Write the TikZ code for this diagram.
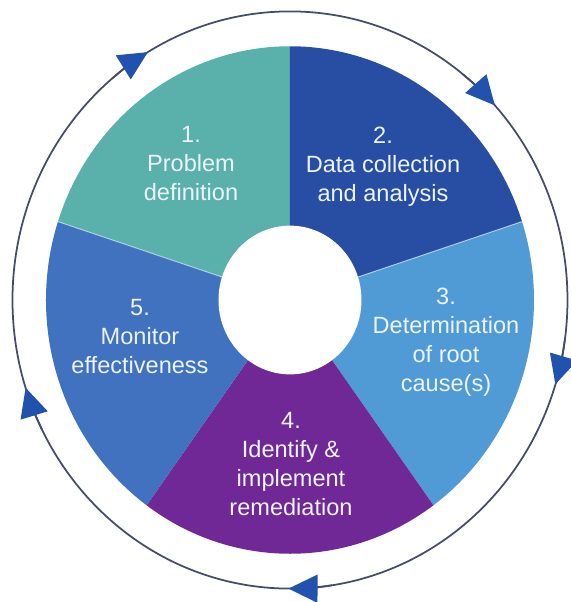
\documentclass[tikz,border=0pt]{standalone}
\usepackage{fontspec}
\setmainfont{Liberation Sans}
\usetikzlibrary{arrows.meta}

\definecolor{segteal}{RGB}{90,177,172}
\definecolor{segnavy}{RGB}{40,78,164}
\definecolor{segsky}{RGB}{80,155,214}
\definecolor{segpurple}{RGB}{112,40,150}
\definecolor{segblue}{RGB}{64,114,192}
\definecolor{ringline}{RGB}{70,76,104}
\definecolor{tipblue}{RGB}{33,82,173}
\definecolor{labeltext}{RGB}{236,243,250}

\tikzset{
  steplabel/.style={text=labeltext,align=center,inner sep=0pt,
    font=\fontsize{6.7}{8.25}\selectfont},
  sepline/.style={white,line width=0.3pt,opacity=0.5},
  ringtip/.tip={Triangle[length=0.29cm,width=0.28cm,color=tipblue]},
  ringarrow/.style={ringline,line width=0.5pt,-{ringtip}}
}

\begin{document}
\begin{tikzpicture}

\useasboundingbox (-2.90,-3.02) rectangle (2.81,3.00);

\begin{scope}[yscale=1.04]
%sectors, clockwise from the top
\fill[segteal]   (0,0) -- (90:2.44)  arc (90:162:2.44)  -- cycle;
\fill[segnavy]   (0,0) -- (18:2.44)  arc (18:90:2.44)   -- cycle;
\fill[segsky]    (0,0) -- (-54:2.44) arc (-54:18:2.44)  -- cycle;
\fill[segpurple] (0,0) -- (-126:2.44) arc (-126:-54:2.44) -- cycle;
\fill[segblue]   (0,0) -- (162:2.44) arc (162:234:2.44) -- cycle;
\draw[sepline] (0,0) -- (162:2.44);
\draw[sepline] (0,0) -- (18:2.44);

%hole
\fill[white] (0,0) circle (0.715);

%outer cycle
\draw[ringline,line width=0.5pt] (0,0) circle (2.775);
\draw[ringarrow] (129.8:2.775) arc (129.8:120.8:2.775);
\draw[ringarrow] (51.4:2.775) arc (51.4:42.4:2.775);
\draw[ringarrow] (-8:2.775) arc (-8:-17:2.775);
\draw[ringarrow] (-81.3:2.775) arc (-81.3:-90.3:2.775);
\draw[ringarrow] (-153.3:2.775) arc (-153.3:-162.3:2.775);
\end{scope}

\node[steplabel] (problem) at (-0.99,1.36) {1.\\Problem\\definition};
\node[steplabel] (data) at (0.93,1.33) {2.\\Data collection\\and analysis};
\node[steplabel] (root) at (1.56,-0.42) {3.\\Determination\\of root\\cause(s)};
\node[steplabel] (remedy) at (0.01,-1.645) {4.\\Identify \&\\implement\\remediation};
\node[steplabel] (monitor) at (-1.50,-0.37) {5.\\Monitor\\effectiveness};

\end{tikzpicture}
\end{document}
